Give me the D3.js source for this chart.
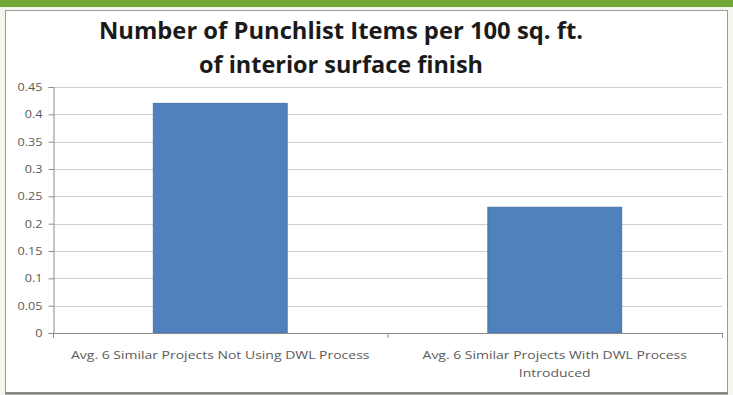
<!DOCTYPE html>
<html>
<head>
<meta charset="utf-8">
<script src="https://cdn.jsdelivr.net/npm/d3@7/dist/d3.min.js"></script>
<style>
  html, body { margin: 0; padding: 0; background: #ffffff; }
  svg { display: block; }
</style>
</head>
<body>
<svg id="chart" width="733" height="395"></svg>
<script>
// Chart data
const categories = [
  "Avg. 6 Similar Projects Not Using DWL Process",
  "Avg. 6 Similar Projects With DWL Process\nIntroduced"
];
const values = [0.42, 0.23];
const yTicks = [0, 0.05, 0.1, 0.15, 0.2, 0.25, 0.3, 0.35, 0.4, 0.45];
const titleLines = [
  "Number of Punchlist Items per 100 sq. ft.",
  "of interior surface finish"
];

const W = 733, H = 395;
const svg = d3.select("#chart");

// Widen a text element horizontally by a factor (narrow-font look)
function stretch(sel, factor) {
  sel.each(function() {
    const len = this.getComputedTextLength();
    d3.select(this).attr("textLength", len * factor).attr("lengthAdjust", "spacingAndGlyphs");
  });
}

// Slide-style frame: green band on top, thin grey border around the chart
svg.append("rect").attr("x", 0).attr("y", 0).attr("width", W).attr("height", H).attr("fill", "#f3f6ee");
svg.append("rect").attr("x", 0).attr("y", 0).attr("width", W).attr("height", 7).attr("fill", "#6fa634");
svg.append("rect")
  .attr("x", 5.5).attr("y", 10.5).attr("width", 722).attr("height", 382)
  .attr("fill", "#ffffff").attr("stroke", "#9a9a9a").attr("stroke-width", 1);
svg.append("line").attr("x1", 5).attr("x2", 728).attr("y1", 393.5).attr("y2", 393.5)
  .attr("stroke", "#7d7d7d").attr("stroke-width", 2);

// Title
const titleBaselines = [39, 73];
const titleWidths = [484, 284];
svg.append("g").selectAll("text").data(titleLines).join("text")
  .attr("x", 341)
  .attr("y", (d, i) => titleBaselines[i])
  .attr("text-anchor", "middle")
  .attr("font-family", "'Open Sans', sans-serif")
  .attr("font-weight", "bold")
  .attr("font-size", 24)
  .attr("fill", "#1a1a1a")
  .attr("textLength", (d, i) => titleWidths[i])
  .attr("lengthAdjust", "spacingAndGlyphs")
  .text(d => d);

// Plot area
const plot = { left: 53, right: 722, top: 87, bottom: 333 };

const x = d3.scaleBand()
  .domain(categories)
  .range([plot.left, plot.right])
  .paddingInner(0.6)
  .paddingOuter(0.3);

const y = d3.scaleLinear()
  .domain([0, 0.45])
  .range([plot.bottom, plot.top]);

// Horizontal gridlines
svg.append("g").selectAll("line").data(yTicks.filter(t => t > 0)).join("line")
  .attr("x1", plot.left).attr("x2", plot.right)
  .attr("y1", d => Math.round(y(d)) + 0.5).attr("y2", d => Math.round(y(d)) + 0.5)
  .attr("stroke", "#cfcfcf").attr("stroke-width", 1);

// Bars
svg.append("g").selectAll("rect").data(values).join("rect")
  .attr("x", (d, i) => x(categories[i]))
  .attr("y", d => y(d))
  .attr("width", x.bandwidth())
  .attr("height", d => y(0) - y(d))
  .attr("fill", "#4f81bd")
  .attr("stroke", "#4774aa")
  .attr("stroke-width", 1);

// Y axis
const yAxis = d3.axisLeft(y)
  .tickValues(yTicks)
  .tickSize(5)
  .tickPadding(6)
  .tickFormat(d => d === 0 ? "0" : String(d));
const gy = svg.append("g")
  .attr("transform", `translate(${plot.left + 0.5},0)`)
  .call(yAxis);
gy.select(".domain").attr("stroke", "#8c8c8c");
gy.selectAll(".tick line").attr("stroke", "#8c8c8c");
gy.selectAll(".tick text")
  .attr("font-family", "'Open Sans', sans-serif")
  .attr("font-size", 11)
  .attr("fill", "#5a5a5a")
  .call(stretch, 1.15);

// X axis baseline with boundary ticks
const gx = svg.append("g");
gx.append("line")
  .attr("x1", plot.left).attr("x2", plot.right)
  .attr("y1", plot.bottom + 0.5).attr("y2", plot.bottom + 0.5)
  .attr("stroke", "#8c8c8c");
const boundaries = [plot.left, (plot.left + plot.right) / 2, plot.right];
gx.selectAll("line.b").data(boundaries).join("line")
  .attr("class", "b")
  .attr("x1", d => d + 0.5).attr("x2", d => d + 0.5)
  .attr("y1", plot.bottom).attr("y2", plot.bottom + 5)
  .attr("stroke", "#8c8c8c");

// Category labels (one text per line so each can be widened)
const labelGroups = svg.append("g").selectAll("g").data(categories).join("g");
labelGroups.each(function(d) {
  const cx = x(d) + x.bandwidth() / 2;
  d3.select(this).selectAll("text").data(d.split("\n")).join("text")
    .attr("x", cx)
    .attr("y", (ln, i) => 359 + i * 18)
    .attr("text-anchor", "middle")
    .attr("font-family", "'Open Sans', sans-serif")
    .attr("font-size", 11)
    .attr("fill", "#5a5a5a")
    .text(ln => ln)
    .call(stretch, 1.27);
});
</script>
</body>
</html>
